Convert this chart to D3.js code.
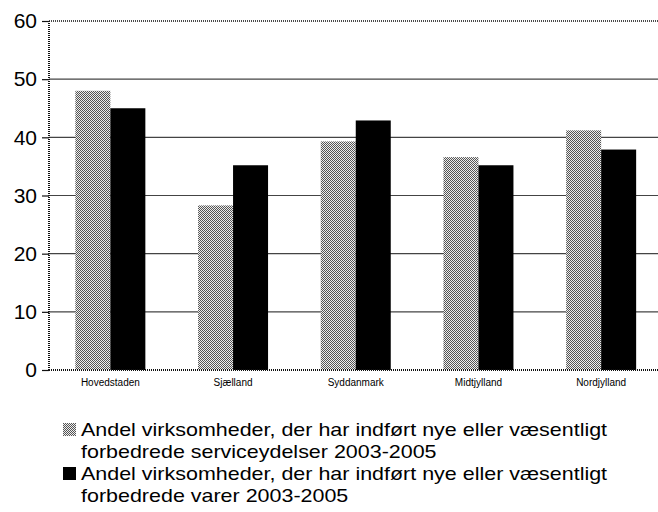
<!DOCTYPE html>
<html><head><meta charset="utf-8">
<script src="https://cdn.jsdelivr.net/npm/d3@7"></script>
<style>body{margin:0;background:#fff;}svg{display:block;}</style>
</head><body>
<svg id="c" width="658" height="512"></svg>
<script>
const categories = ["Hovedstaden","Sjælland","Syddanmark","Midtjylland","Nordjylland"];
const serviceValues = [48, 28.3, 39.3, 36.6, 41.2];
const goodsValues = [45, 35.2, 42.9, 35.2, 37.9];
const yTicks = [0,10,20,30,40,50,60];
const legendLabels = [
  ["Andel virksomheder, der har indført nye eller væsentligt","forbedrede serviceydelser 2003-2005"],
  ["Andel virksomheder, der har indført nye eller væsentligt","forbedrede varer 2003-2005"]
];

const svg = d3.select("#c");
const defs = svg.append("defs");
const pat = defs.append("pattern").attr("id","dots").attr("patternUnits","userSpaceOnUse")
  .attr("width",2).attr("height",2);
pat.append("rect").attr("width",2).attr("height",2).attr("fill","#eeeeee");
pat.append("rect").attr("x",0).attr("y",0).attr("width",1).attr("height",1).attr("fill","#555");
pat.append("rect").attr("x",1).attr("y",1).attr("width",1).attr("height",1).attr("fill","#555");

const L = 49, R = 662.5, T = 21, B = 370;
const x = d3.scaleBand().domain(categories).range([L,R]);
const y = d3.scaleLinear().domain([0,60]).range([B,T]);
const bw = 35;

// gridlines
svg.append("g").selectAll("line").data(yTicks.filter(d=>d>0 && d<60)).join("line")
  .attr("x1",L).attr("x2",658).attr("y1",d=>y(d)).attr("y2",d=>y(d))
  .attr("stroke","#444").attr("stroke-width",1.2);
// top border dotted
svg.append("line").attr("x1",L).attr("x2",658).attr("y1",y(60)).attr("y2",y(60))
  .attr("stroke","#111").attr("stroke-width",1.5).attr("stroke-dasharray","1,1");

// bars
const g = svg.append("g");
g.selectAll("rect.s").data(categories).join("rect").attr("class","s")
  .attr("x",d=>x(d)+x.bandwidth()/2-bw).attr("width",bw)
  .attr("y",(d,i)=>y(serviceValues[i])).attr("height",(d,i)=>B-y(serviceValues[i]))
  .attr("fill","url(#dots)");
g.selectAll("rect.g").data(categories).join("rect").attr("class","g")
  .attr("x",d=>x(d)+x.bandwidth()/2).attr("width",bw)
  .attr("y",(d,i)=>y(goodsValues[i])).attr("height",(d,i)=>B-y(goodsValues[i]))
  .attr("fill","#000");

// y axis
const ya = svg.append("g").attr("transform",`translate(${L},0)`)
  .call(d3.axisLeft(y).tickValues(yTicks).tickSize(7).tickPadding(5));
ya.select(".domain").remove();
ya.selectAll(".tick line").attr("stroke","#111").attr("stroke-width",1.2);
ya.selectAll(".tick text").attr("font-family","Liberation Sans, Arial, sans-serif")
  .attr("font-size",21).attr("fill","#000");
svg.append("line").attr("x1",L).attr("x2",L).attr("y1",T).attr("y2",B+1)
  .attr("stroke","#111").attr("stroke-width",2).attr("stroke-dasharray","1,1");

// x axis
const xa = svg.append("g").attr("transform",`translate(0,${B})`)
  .call(d3.axisBottom(x).tickSize(0).tickPadding(9));
xa.select(".domain").attr("stroke","#111").attr("stroke-width",2).attr("stroke-dasharray","1,1")
  .attr("d",`M${L},0H658`);
xa.selectAll(".tick text").attr("font-family","Liberation Sans, Arial, sans-serif")
  .attr("font-size",10).attr("fill","#000");

// legend
const leg = svg.append("g");
const lineH = 22;
const sx = 1.13;
legendLabels.forEach((lines,i)=>{
  const by = 436 + i*2*lineH;
  leg.append("rect").attr("x",63).attr("y",by-13).attr("width",13).attr("height",13)
    .attr("fill", i===0 ? "url(#dots)" : "#000");
  lines.forEach((t,j)=>{
    leg.append("text").attr("transform",`translate(81,${by + j*lineH}) scale(${sx},1)`).text(t)
      .attr("font-family","Liberation Sans, Arial, sans-serif").attr("font-size",19).attr("fill","#000");
  });
});
</script>
</body></html>
